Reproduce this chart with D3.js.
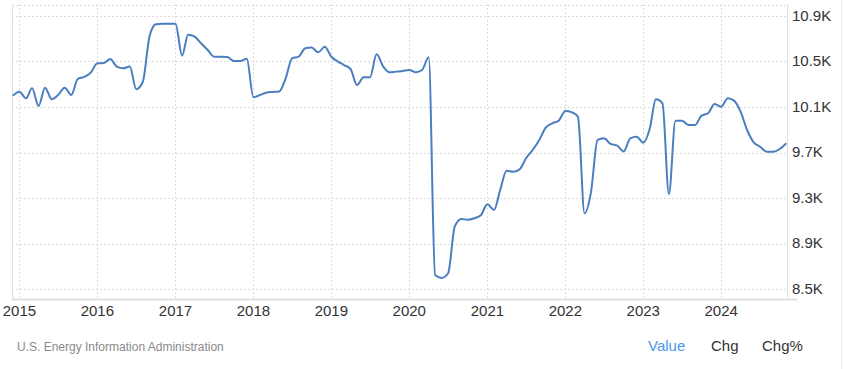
<!DOCTYPE html>
<html>
<head>
<meta charset="utf-8">
<script src="https://cdn.jsdelivr.net/npm/d3@7"></script>
<style>
  html, body { margin: 0; padding: 0; background: #fff; }
  svg { display: block; font-family: Arial, "Liberation Sans", sans-serif; }
</style>
</head>
<body>
<div id="chart"></div>
<script>
// monthly values, Dec 2014 .. Nov 2024
const startMonth = new Date(2014, 11, 1);
const values = [
  10200, 10235, 10177, 10264, 10109, 10270, 10168, 10205, 10270, 10205, 10346, 10364,
  10402, 10484, 10487, 10522, 10455, 10440, 10455, 10256, 10322, 10718, 10827, 10832,
  10832, 10832, 10551, 10736, 10718, 10660, 10601, 10542, 10542, 10540, 10504, 10504,
  10525, 10185, 10205, 10226, 10232, 10236, 10352, 10528, 10542, 10616, 10622, 10581,
  10630, 10542, 10499, 10469, 10434, 10293, 10361, 10361, 10563, 10455, 10405, 10411,
  10416, 10425, 10405, 10425, 10537, 8623, 8597, 8638, 9048, 9115, 9109, 9122,
  9148, 9245, 9195, 9364, 9540, 9531, 9552, 9649, 9722, 9810, 9918, 9957,
  9980, 10065, 10053, 10015, 9165, 9350, 9810, 9825, 9775, 9760, 9709, 9825,
  9839, 9786, 9913, 10168, 10132, 9335, 9980, 9980, 9942, 9942, 10024, 10045,
  10126, 10102, 10177, 10156, 10059, 9900, 9790, 9751, 9707, 9707, 9731, 9781
];
const yTicks = [8500, 8900, 9300, 9700, 10100, 10500, 10900];
const yTickLabels = ["8.5K", "8.9K", "9.3K", "9.7K", "10.1K", "10.5K", "10.9K"];
const xYears = [2015, 2016, 2017, 2018, 2019, 2020, 2021, 2022, 2023, 2024];
const footerSource = "U.S. Energy Information Administration";
const footerTabs = ["Value", "Chg", "Chg%"];

const data = values.map((v, i) => ({
  date: new Date(startMonth.getFullYear(), startMonth.getMonth() + i, 1),
  value: v
}));

const width = 844, height = 369;
const plot = { left: 12, right: 787, top: 4, bottom: 300 };

const svg = d3.select("#chart").append("svg")
  .attr("width", width)
  .attr("height", height);

const x = d3.scaleTime()
  .domain([data[0].date, data[data.length - 1].date])
  .range([12.8, 786.3]);

const y = d3.scaleLinear()
  .domain([8500, 10900])
  .range([289, 16]);

// gridlines
const grid = svg.append("g").attr("stroke", "#dcdcdc").attr("stroke-dasharray", "2,2");
grid.selectAll("line.h")
  .data([...yTicks.map(d => y(d)), plot.top + 0.5])
  .join("line")
  .attr("x1", plot.left).attr("x2", plot.right)
  .attr("y1", d => Math.round(d) + 0.5).attr("y2", d => Math.round(d) + 0.5);
grid.selectAll("line.v")
  .data(xYears)
  .join("line")
  .attr("x1", d => Math.round(x(new Date(d, 0, 1))) + 0.5)
  .attr("x2", d => Math.round(x(new Date(d, 0, 1))) + 0.5)
  .attr("y1", plot.top).attr("y2", plot.bottom);

// frame
svg.append("line")
  .attr("x1", plot.left + 0.5).attr("x2", plot.left + 0.5)
  .attr("y1", plot.top).attr("y2", plot.bottom)
  .attr("stroke", "#e0e0e0");
svg.append("line")
  .attr("x1", plot.right + 0.5).attr("x2", plot.right + 0.5)
  .attr("y1", plot.top).attr("y2", plot.bottom)
  .attr("stroke", "#e0e0e0");
svg.append("line")
  .attr("x1", plot.left).attr("x2", 797)
  .attr("y1", plot.bottom - 0.5).attr("y2", plot.bottom - 0.5)
  .attr("stroke", "#e0e0e0").attr("stroke-width", 2);
svg.append("line")
  .attr("x1", 841.5).attr("x2", 841.5)
  .attr("y1", 0).attr("y2", height)
  .attr("stroke", "#eeeeee");

// y axis labels (right)
svg.append("g")
  .selectAll("text")
  .data(yTicks)
  .join("text")
  .attr("x", 792)
  .attr("y", d => y(d))
  .attr("dy", "0.33em")
  .attr("font-size", 15)
  .attr("fill", "#333")
  .text((d, i) => yTickLabels[i]);

// x axis labels
svg.append("g")
  .selectAll("text")
  .data(xYears)
  .join("text")
  .attr("x", d => x(new Date(d, 0, 1)))
  .attr("y", 316)
  .attr("text-anchor", "middle")
  .attr("font-size", 15)
  .attr("fill", "#333")
  .text(d => d);

// series
const line = d3.line()
  .x(d => x(d.date))
  .y(d => y(d.value))
  .curve(d3.curveMonotoneX);

svg.append("path")
  .datum(data)
  .attr("fill", "none")
  .attr("stroke", "#4a7ebf")
  .attr("stroke-width", 2)
  .attr("stroke-linejoin", "round")
  .attr("d", line);

// footer
svg.append("text")
  .attr("x", 17)
  .attr("y", 351)
  .attr("font-size", 12)
  .attr("fill", "#8a8a8a")
  .text(footerSource);

const tabX = [648, 711, 762];
svg.append("g")
  .selectAll("text")
  .data(footerTabs)
  .join("text")
  .attr("x", (d, i) => tabX[i])
  .attr("y", 351)
  .attr("font-size", 15)
  .attr("fill", (d, i) => i === 0 ? "#4a97e8" : "#333")
  .text(d => d);
</script>
</body>
</html>
